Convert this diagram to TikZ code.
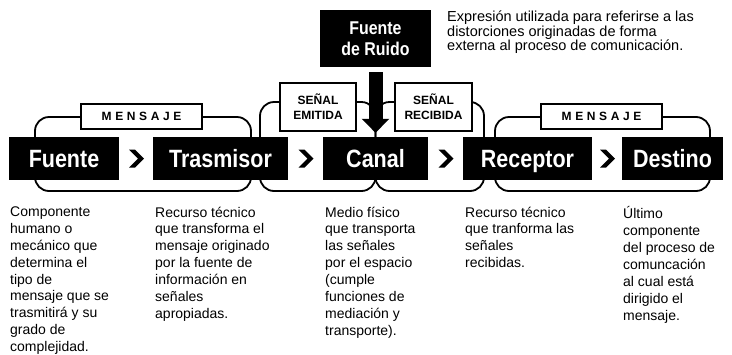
\documentclass[tikz,border=0pt]{standalone}
\usepackage{fontspec}
\setmainfont{Liberation Sans}
\newfontfamily\boxfont{Liberation Sans}[FakeStretch=0.86]
\newfontfamily\tagfont{Liberation Sans}[LetterSpace=30]
\usetikzlibrary{arrows.meta,calc}

\begin{document}
\begin{tikzpicture}[x=1pt,y=-1pt,
    stage/.style={fill=black,text=white,inner sep=0pt,minimum height=43pt,text height=18pt,text depth=0pt,font=\boxfont\bfseries\fontsize{25}{26}\selectfont},
    noise/.style={fill=black,text=white,inner sep=0pt,minimum width=111pt,minimum height=57pt,align=center,font=\boxfont\bfseries\fontsize{18.5}{21}\selectfont},
    tag/.style={draw,line width=1.8pt,fill=white,inner sep=0pt,align=center,font=\bfseries\fontsize{12}{15}\selectfont},
    msgtag/.style={tag,minimum width=121pt,minimum height=25pt,font=\tagfont\bfseries\fontsize{12}{12}\selectfont},
    ring/.style={line width=1.8pt,rounded corners=14pt},
    note/.style={anchor=north west,inner sep=0pt,align=left,font=\fontsize{14}{16.9}\selectfont,execute at begin node=\rule{0pt}{13.5pt}}]
          \useasboundingbox (0,0) rectangle (732,354);
          \draw[ring] (35,117) rectangle (251,191);
          \draw[ring] (260,102) rectangle (375.5,191);
          \draw[ring] (375.5,102) rectangle (484,191);
          \draw[ring] (495,117) rectangle (710,191);
          \node[stage,minimum width=110pt] at (64,158.5) (fuente) {Fuente};
          \node[stage,minimum width=135pt] at (220.5,158.5) (trasmisor) {Trasmisor};
          \node[stage,minimum width=105pt] at (375.5,158.5) (canal) {Canal};
          \node[stage,minimum width=129pt] at (527.5,158.5) (receptor) {Receptor};
          \node[stage,minimum width=101pt] at (672.5,158.5) (destino) {Destino};
          \node[noise] at (375.5,38.5) (ruido) {Fuente\\de Ruido};
          \node[msgtag] at (141.5,116.5) (mensaje1) {MENSAJE};
          \node[tag,minimum width=76pt,minimum height=48pt] at (318,107) (emitida) {SEÑAL\\EMITIDA};
          \node[tag,minimum width=77pt,minimum height=48pt] at (433.5,107) (recibida) {SEÑAL\\RECIBIDA};
          \node[msgtag] at (601.5,116.5) (mensaje2) {MENSAJE};
          \draw[line width=14pt,-{Triangle[width=27pt,length=14pt]},shorten <=5pt,shorten >=4pt] (ruido.south) -- (canal.north);
          \foreach \a/\b in {fuente/trasmisor,trasmisor/canal,canal/receptor,receptor/destino}
            \fill[shift={($(\a.east)!0.5!(\b.west)$)}] (-7,-9) -- (-1,-9) -- (8,0) -- (-1,9) -- (-7,9) -- (2,0) -- cycle;
          \node[note,font=\fontsize{14.5}{14.5}\selectfont] at (447,11) (ruidonote) {Expresión utilizada para referirse a las\\distorciones originadas de forma\\externa al proceso de comunicación.};
          \node[note] at (10,206.5) (fuentenote) {Componente\\humano o\\mecánico que\\determina el\\tipo de\\mensaje que se\\trasmitirá y su\\grado de\\complejidad.};
          \node[note] at (155,206.5) (trasmisornote) {Recurso técnico\\que transforma el\\mensaje originado\\por la fuente de\\información en\\señales\\apropiadas.};
          \node[note] at (325,206.5) (canalnote) {Medio físico\\que transporta\\las señales\\por el espacio\\(cumple\\funciones de\\mediación y\\transporte).};
          \node[note] at (465,206.5) (receptornote) {Recurso técnico\\que tranforma las\\señales\\recibidas.};
          \node[note] at (623,206.5) (destinonote) {Último\\componente\\del proceso de\\comuncación\\al cual está\\dirigido el\\mensaje.};
        \end{tikzpicture}
\end{document}
